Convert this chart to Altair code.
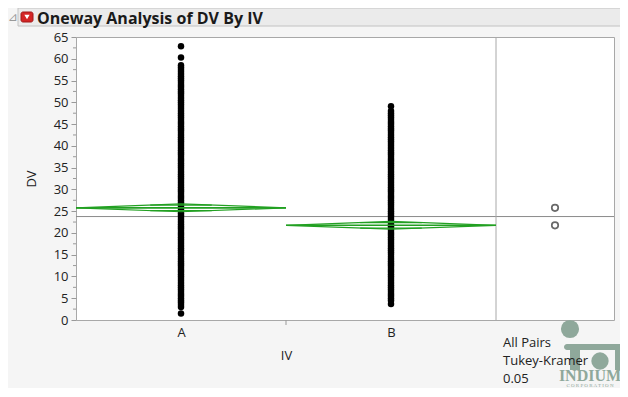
import altair as alt
import pandas as pd

# ---------------- data ----------------
groups = ["A", "B"]
group_means = [25.76, 21.75]
ci_half = [0.9, 0.9]          # 95% CI half width of each mean diamond
grand_mean = 23.76

a_values = [
    1.5,
    3.0, 3.5, 4.0, 4.5, 5.0, 5.5, 6.0, 6.5, 7.0, 7.5, 8.0, 8.5, 9.0, 9.5,
    10.0, 10.5, 11.0, 11.5, 12.0, 12.5, 13.0, 13.5, 14.0, 14.5, 15.0, 15.5,
    16.0, 16.5, 17.0, 17.5, 18.0, 18.5, 19.0, 19.5, 20.0, 20.5, 21.0, 21.5,
    22.0, 22.5, 23.0, 23.5, 24.0, 24.5, 25.0, 25.5, 26.0, 26.5, 27.0, 27.5,
    28.0, 28.5, 29.0, 29.5, 30.0, 30.5, 31.0, 31.5, 32.0, 32.5, 33.0, 33.5,
    34.0, 34.5, 35.0, 35.5, 36.0, 36.5, 37.0, 37.5, 38.0, 38.5, 39.0, 39.5,
    40.0, 40.5, 41.0, 41.5, 42.0, 42.5, 43.0, 43.5, 44.0, 44.5, 45.0, 45.5,
    46.0, 46.5, 47.0, 47.5, 48.0, 48.5, 49.0, 49.5, 50.0, 50.5, 51.0, 51.5,
    52.0, 52.5, 53.0, 53.5, 54.0, 54.5, 55.0, 55.5, 56.0, 56.5, 57.0, 57.5,
    58.0, 58.5,
    60.3, 62.9,
]
b_values = [
    3.7,
    4.5, 5.0, 5.5, 6.0, 6.5, 7.0, 7.5, 8.0, 8.5, 9.0, 9.5,
    10.0, 10.5, 11.0, 11.5, 12.0, 12.5, 13.0, 13.5, 14.0, 14.5, 15.0, 15.5,
    16.0, 16.5, 17.0, 17.5, 18.0, 18.5, 19.0, 19.5, 20.0, 20.5, 21.0, 21.5,
    22.0, 22.5, 23.0, 23.5, 24.0, 24.5, 25.0, 25.5, 26.0, 26.5, 27.0, 27.5,
    28.0, 28.5, 29.0, 29.5, 30.0, 30.5, 31.0, 31.5, 32.0, 32.5, 33.0, 33.5,
    34.0, 34.5, 35.0, 35.5, 36.0, 36.5, 37.0, 37.5, 38.0, 38.5, 39.0, 39.5,
    40.0, 40.5, 41.0, 41.5, 42.0, 42.5, 43.0, 43.5, 44.0, 44.5, 45.0, 45.5,
    46.0, 46.5, 47.0, 47.5, 48.0,
    49.1,
]

y_major_ticks = [0, 5, 10, 15, 20, 25, 30, 35, 40, 45, 50, 55, 60, 65]
y_minor_ticks = [2.5, 7.5, 12.5, 17.5, 22.5, 27.5, 32.5, 37.5, 42.5, 47.5,
                 52.5, 57.5, 62.5]

title_text = "Oneway Analysis of DV By IV"
x_title = "IV"
y_title = "DV"
compare_text = ["All Pairs", "Tukey-Kramer", "0.05"]

# ---------------- layout ----------------
W, H = 538, 283
MAIN_W = 420                       # px of the two group columns
PX_PER_UNIT = MAIN_W / len(groups)
X_MAX = W / PX_PER_UNIT
RIGHT_CENTER = len(groups) + (X_MAX - len(groups)) / 2

FONT = "Open Sans"
GREEN = "#22a022"
xscale = alt.Scale(domain=[0, X_MAX], nice=False, zero=False)
yscale = alt.Scale(domain=[0, 65], nice=False, zero=False)

# ---------------- tables ----------------
pts = pd.DataFrame(
    [{"g": 0, "v": v} for v in a_values] + [{"g": 1, "v": v} for v in b_values]
)
pts["x"] = pts["g"] + 0.5

diam_rows, mean_rows, ovl_rows, circ_rows = [], [], [], []
for i, (g, m, h) in enumerate(zip(groups, group_means, ci_half)):
    left, right, c = i, i + 1, i + 0.5
    path = [(left, m), (c, m + h), (right, m), (c, m - h), (left, m)]
    for k, (px, py) in enumerate(path):
        diam_rows.append({"grp": g, "o": k, "x": px, "v": py})
    mean_rows.append({"x": left, "x2": right, "v": m})
    f = 0.7071
    half = 0.5 * (1 - f)
    for s in (1, -1):
        ovl_rows.append({"x": c - half, "x2": c + half, "v": m + s * h * f})
    circ_rows.append({"x": RIGHT_CENTER, "v": m})

diam = pd.DataFrame(diam_rows)
means_df = pd.DataFrame(mean_rows)
ovl = pd.DataFrame(ovl_rows)
circ = pd.DataFrame(circ_rows)
gm = pd.DataFrame({"x": [0], "x2": [X_MAX], "v": [grand_mean]})
sep = pd.DataFrame({"x": [len(groups)]})
xtick = pd.DataFrame({"x": [1]})
minor = pd.DataFrame({"v": y_minor_ticks})
one = pd.DataFrame({"k": [0]})

# ---------------- layers ----------------
base_x_axis = alt.Axis(
    values=[0.5, 1.5],
    labelExpr="datum.value < 1 ? 'A' : 'B'",
    ticks=False, domain=False, grid=False,
    labelFont=FONT, labelFontSize=13, labelColor="#222222", labelPadding=6,
    title=x_title, titleFont=FONT, titleFontSize=13, titleFontWeight="normal",
    titleColor="#222222", titleX=210, titleY=35, titleBaseline="middle",
)
base_y_axis = alt.Axis(
    values=y_major_ticks, tickSize=5, tickColor="#999999", domain=False,
    grid=False, labelFont=FONT, labelFontSize=13, labelColor="#222222",
    labelPadding=3, title=y_title, titleFont=FONT, titleFontSize=13,
    titleFontWeight="normal", titleColor="#222222", titleX=-38, titleY=141.5,
    titleAngle=-90, titleAlign="center", titleBaseline="bottom",
)

X = alt.X("x:Q", scale=xscale, axis=base_x_axis)
Y = alt.Y("v:Q", scale=yscale, axis=base_y_axis)

points = alt.Chart(pts).mark_circle(size=42, color="black", opacity=1).encode(
    x=X, y=Y)

grand = alt.Chart(gm).mark_rule(color="#8a8a8a", strokeWidth=1).encode(
    x=X, x2="x2:Q", y=Y)
separator = alt.Chart(sep).mark_rule(color="#a8a8a8", strokeWidth=1).encode(
    x=X)
x_tick = alt.Chart(xtick).mark_rule(color="#999999").encode(
    x=X, y=alt.value(H), y2=alt.value(H + 5))
minor_ticks = alt.Chart(minor).mark_rule(color="#999999").encode(
    y=Y, x=alt.value(-3), x2=alt.value(0))

diamonds = alt.Chart(diam).mark_line(color=GREEN, strokeWidth=1.2).encode(
    x=X, y=Y, order="o:Q", detail="grp:N")
mean_lines = alt.Chart(means_df).mark_rule(color=GREEN, strokeWidth=1.6).encode(
    x=X, x2="x2:Q", y=Y)
overlap = alt.Chart(ovl).mark_rule(color=GREEN, strokeWidth=1.2).encode(
    x=X, x2="x2:Q", y=Y)
circles = alt.Chart(circ).mark_point(
    shape="circle", filled=False, size=42, color="#2a2a2a", strokeWidth=1.7
).encode(x=X, y=Y)

cmp_layers = [
    alt.Chart(one).mark_text(
        text=t, align="left", baseline="middle", font=FONT, fontSize=13,
        color="#222222"
    ).encode(x=alt.value(427), y=alt.value(306 + 18 * k))
    for k, t in enumerate(compare_text)
]

# header bar
header = alt.Chart(one).mark_rect(
    fill="#ebebeb", stroke="#c2c2c2", strokeWidth=1
).encode(x=alt.value(-58), x2=alt.value(546), y=alt.value(-29), y2=alt.value(-11))
red_box = alt.Chart(one).mark_rect(
    fill="#d42525", stroke="#a01818", cornerRadius=2
).encode(x=alt.value(-55), x2=alt.value(-43), y=alt.value(-25), y2=alt.value(-15))
red_tri = alt.Chart(one).mark_point(
    shape="triangle-down", filled=True, color="white", size=28, opacity=1
).encode(x=alt.value(-49), y=alt.value(-20))
disclosure = alt.Chart(one).mark_text(
    text="⊿", font="DejaVu Sans", fontSize=12, color="#9a9a9a",
    align="center", baseline="middle"
).encode(x=alt.value(-63), y=alt.value(-20))
title = alt.Chart(one).mark_text(
    text=title_text, font=FONT, fontSize=16, fontWeight="bold",
    color="#1a1a1a", align="left", baseline="middle"
).encode(x=alt.value(-39), y=alt.value(-18.5))

# watermark logo (decoration)
LOGO = "#8fa89b"
logo_c1 = alt.Chart(one).mark_circle(color=LOGO, size=330, opacity=1).encode(
    x=alt.value(494), y=alt.value(292))
logo_arch = alt.Chart(one).mark_rect(fill=LOGO, cornerRadius=3).encode(
    x=alt.value(488), x2=alt.value(548), y=alt.value(307), y2=alt.value(313))
logo_leg1 = alt.Chart(one).mark_rect(fill=LOGO).encode(
    x=alt.value(494), x2=alt.value(504), y=alt.value(307), y2=alt.value(333))
logo_leg2 = alt.Chart(one).mark_rect(fill=LOGO).encode(
    x=alt.value(539), x2=alt.value(548), y=alt.value(307), y2=alt.value(333))
logo_c2 = alt.Chart(one).mark_circle(color=LOGO, size=300, opacity=1).encode(
    x=alt.value(524), y=alt.value(324))
logo_txt = alt.Chart(one).mark_text(
    text="INDIUM", font="Liberation Serif", fontSize=16, fontWeight="bold",
    color=LOGO, align="center", baseline="middle"
).encode(x=alt.value(514), y=alt.value(339))
logo_sub = alt.Chart(one).mark_text(
    text="C O R P O R A T I O N", font="Liberation Serif", fontSize=5,
    color=LOGO, align="center", baseline="middle"
).encode(x=alt.value(514), y=alt.value(347.5))

chart = alt.layer(
    logo_c1, logo_arch, logo_leg1, logo_leg2, logo_c2, logo_txt, logo_sub,
    grand, separator, x_tick, minor_ticks, points,
    diamonds, mean_lines, overlap, circles, *cmp_layers,
    header, red_box, red_tri, disclosure, title,
).properties(
    width=W, height=H,
    autosize=alt.AutoSizeParams(type="none"),
    padding={"left": 68, "top": 29, "right": 6, "bottom": 68},
    background="#f5f5f5",
).configure_view(
    stroke="#a8a8a8", fill="white", strokeWidth=1,
)

chart.save("out.html", embed_options={"renderer": "svg", "actions": False})
